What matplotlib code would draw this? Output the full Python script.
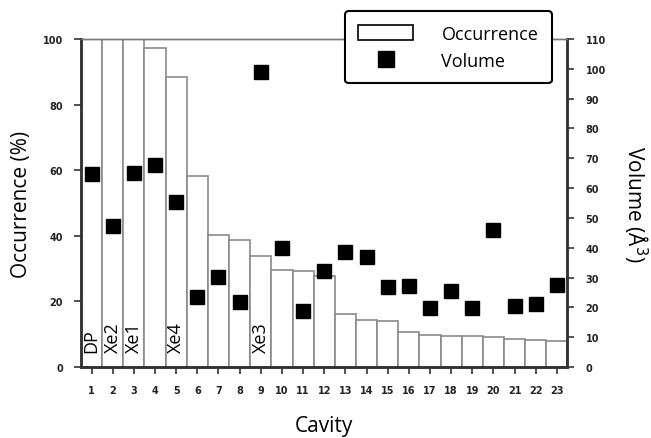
import matplotlib.pyplot as plt
import matplotlib.patches as mpatches
from matplotlib.lines import Line2D

cavity = list(range(1, 24))
occurrence = [100, 100, 100, 97.3, 88.3, 58.3, 40.2, 38.7, 33.7, 29.7, 29.2, 27.6,
              16.2, 14.4, 14.1, 10.8, 9.9, 9.5, 9.4, 9.1, 8.4, 8.2, 8.0]
volume = [64.7, 47.4, 65.0, 67.7, 55.4, 23.4, 30.3, 21.7, 99.0, 40.0, 18.9, 32.3,
          38.7, 36.9, 26.7, 27.1, 19.7, 25.5, 19.7, 45.9, 20.6, 21.0, 27.6]
site_labels = {1: "DP", 2: "Xe2", 3: "Xe1", 5: "Xe4", 9: "Xe3"}

plt.rcParams['font.family'] = ['Open Sans', 'DejaVu Sans']

fig = plt.figure(figsize=(6.51, 4.39), dpi=100)
ax = fig.add_axes([0.1244, 0.1617, 0.7473, 0.7472])
ax2 = ax.twinx()

ax.bar(cavity, occurrence, width=1.0, color="white", edgecolor="#8a8a8a", linewidth=1.2)
for k, name in site_labels.items():
    ax.text(k, 4.5, name, rotation=90, ha="center", va="bottom", fontsize=13)

ax2.plot(cavity, volume, "s", color="black", markersize=9.5, linestyle="none")

ax.set_xlim(0.5, 23.5)
ax.set_ylim(0, 100)
ax2.set_ylim(0, 110)
ax.set_xticks(cavity)
ax.set_yticks(range(0, 101, 20))
ax2.set_yticks(range(0, 111, 10))

tick_font = dict(family="DejaVu Sans", weight="bold", size=7, color="#222222")
ax.set_xticklabels([str(c) for c in cavity], fontdict=tick_font)
ax.set_yticklabels([str(v) for v in range(0, 101, 20)], fontdict=tick_font)
ax2.set_yticklabels([str(v) for v in range(0, 111, 10)], fontdict=tick_font)

for a in (ax, ax2):
    a.tick_params(direction="out", length=5, width=1.2, color="#333333", pad=8)
    for s in ("left", "right", "bottom"):
        a.spines[s].set_linewidth(1.8)
        a.spines[s].set_color("#333333")
    a.spines["top"].set_linewidth(1.0)
    a.spines["top"].set_color("#777777")

ax.set_xlabel("Cavity", fontsize=15, labelpad=14)
ax.set_ylabel("Occurrence (%)", fontsize=15, labelpad=8)
ax2.set_ylabel("Volume (Å$^3$)", fontsize=15, rotation=270, labelpad=32)

handles = [mpatches.Rectangle((0, 0), 1, 1, facecolor="white", edgecolor="black", linewidth=1.2),
           Line2D([], [], marker="s", color="black", linestyle="none", markersize=11)]
leg = ax2.legend(handles, ["Occurrence", "Volume"], loc="upper right",
                 bbox_to_anchor=(0.968, 1.085), fontsize=13, fancybox=True,
                 framealpha=1, edgecolor="black", handlelength=3.0, handleheight=0.9,
                 borderpad=0.75, labelspacing=0.5, handletextpad=1.6, borderaxespad=0)
leg.get_frame().set_linewidth(1.5)
leg.set_clip_on(False)

fig.savefig("out.png", dpi=100)
